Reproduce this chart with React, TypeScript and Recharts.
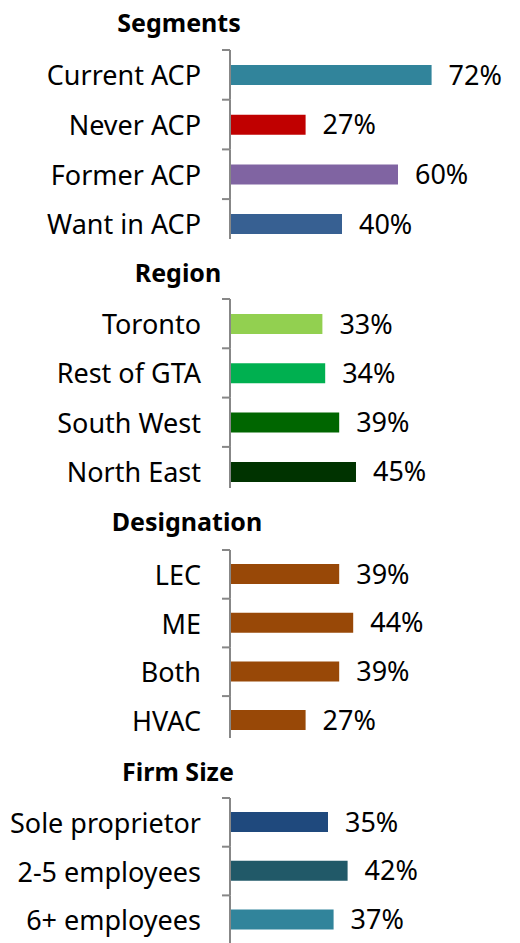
import React from 'react';
import { BarChart, Bar, XAxis, YAxis, Cell, LabelList } from 'recharts';

const segmentCategories = ['Current ACP', 'Never ACP', 'Former ACP', 'Want in ACP'];
const segmentValues = [72, 27, 60, 40];
const segmentColors = ['#31849B', '#C00000', '#8064A2', '#376092'];

const regionCategories = ['Toronto', 'Rest of GTA', 'South West', 'North East'];
const regionValues = [33, 34, 39, 45];
const regionColors = ['#92D050', '#00B050', '#006600', '#003300'];

const designationCategories = ['LEC', 'ME', 'Both', 'HVAC'];
const designationValues = [39, 44, 39, 27];
const designationColors = ['#984807', '#984807', '#984807', '#984807'];

const firmCategories = ['Sole proprietor', '2-5 employees', '6+ employees'];
const firmValues = [35, 42, 37];
const firmColors = ['#1F497D', '#215968', '#31849B'];

const FONT = '"Noto Sans", "Open Sans", sans-serif';
const AXIS_X = 230;
const LABEL_SIZE = 27;

type PanelProps = {
  title: string;
  categories: string[];
  values: number[];
  colors: string[];
  titleTop: number;
  titleCenter: number;
  plotTop: number;
  band: number;
  axisLen: number;
};

function Panel({ title, categories, values, colors, titleTop, titleCenter, plotTop, band, axisLen }: PanelProps) {
  const data = categories.map((c, i) => ({ name: c, value: values[i] }));
  const h = band * categories.length;
  const TOP = 2;
  const Tick = (props: any) => {
    const { y, payload } = props;
    const y0 = y - band / 2;
    const y1 = Math.min(y + band / 2, TOP + axisLen);
    return (
      <g>
        <line x1={AXIS_X} x2={AXIS_X} y1={y0} y2={y1} stroke="#878787" strokeWidth={2} />
        <line x1={AXIS_X - 8} x2={AXIS_X} y1={y0} y2={y0} stroke="#878787" strokeWidth={2} />
        <text x={AXIS_X - 29} y={y} textAnchor="end" dominantBaseline="central" fontSize={LABEL_SIZE} fill="#000" fontFamily={FONT}>
          {payload.value}
        </text>
      </g>
    );
  };
  return (
    <>
      <div
        style={{
          position: 'absolute',
          top: titleTop,
          left: titleCenter - 150,
          width: 300,
          textAlign: 'center',
          fontFamily: FONT,
          fontWeight: 700,
          fontSize: 25,
          lineHeight: '30px',
          color: '#000',
        }}
      >
        {title}
      </div>
      <div style={{ position: 'absolute', top: plotTop - TOP, left: 0, width: 520, height: h + TOP + 4 }}>
        <BarChart
          width={520}
          height={h + TOP + 4}
          data={data}
          layout="vertical"
          margin={{ top: TOP, right: 10, bottom: 4, left: 0 }}
          style={{ fontFamily: FONT, overflow: 'visible' }}
        >
          <XAxis type="number" domain={[0, 100]} hide />
          <YAxis
            type="category"
            dataKey="name"
            width={AXIS_X}
            axisLine={false}
            tickLine={false}
            tick={<Tick />}
            interval={0}
          />
          <Bar dataKey="value" barSize={20} isAnimationActive={false}>
            {data.map((d, i) => (
              <Cell key={d.name} fill={colors[i]} />
            ))}
            <LabelList
              dataKey="value"
              position="right"
              offset={17}
              formatter={(v: any) => `${v}%`}
              style={{ fontSize: LABEL_SIZE, fill: '#000', fontFamily: FONT }}
            />
          </Bar>
        </BarChart>
      </div>
    </>
  );
}

export default function App() {
  return (
    <div style={{ position: 'absolute', left: 0, top: 0, width: 520, height: 943, background: '#fff', overflow: 'hidden' }}>
      <Panel title="Segments" categories={segmentCategories} values={segmentValues} colors={segmentColors}
        titleTop={7} titleCenter={179} plotTop={50} band={49.7} axisLen={189} />
      <Panel title="Region" categories={regionCategories} values={regionValues} colors={regionColors}
        titleTop={257} titleCenter={178} plotTop={299.3} band={49.3} axisLen={189} />
      <Panel title="Designation" categories={designationCategories} values={designationValues} colors={designationColors}
        titleTop={506} titleCenter={187} plotTop={550} band={48.7} axisLen={188} />
      <Panel title="Firm Size" categories={firmCategories} values={firmValues} colors={firmColors}
        titleTop={756} titleCenter={178} plotTop={797.7} band={48.7} axisLen={146} />
    </div>
  );
}
